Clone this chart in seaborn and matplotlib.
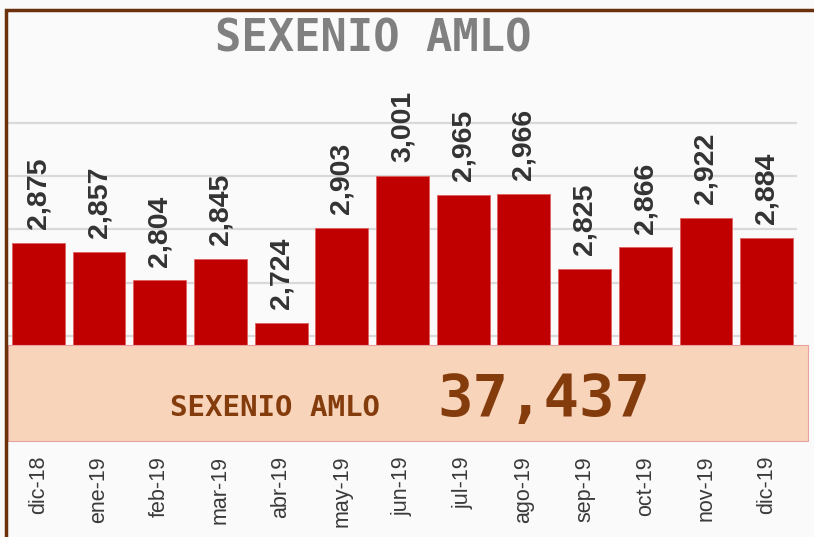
import matplotlib
matplotlib.use("Agg")
import matplotlib.pyplot as plt
import matplotlib.patches as mpatches
import seaborn as sns
import pandas as pd

months = ["dic-18", "ene-19", "feb-19", "mar-19", "abr-19", "may-19", "jun-19",
          "jul-19", "ago-19", "sep-19", "oct-19", "nov-19", "dic-19"]
values = [2875, 2857, 2804, 2845, 2724, 2903, 3001, 2965, 2966, 2825, 2866, 2922, 2884]
title_text = "SEXENIO AMLO"
box_label = "SEXENIO AMLO"
box_total = "37,437"

sns.set_theme(style="white")
plt.rcParams['font.family'] = ['Liberation Sans', 'DejaVu Sans']

df = pd.DataFrame({"mes": months, "valor": values})

fig = plt.figure(figsize=(8.14, 5.37), dpi=100)
fig.patch.set_facecolor("#fafafa")
W, H = 814, 537
ax = fig.add_axes([8 / W, 1 - 442 / H, (797 - 8) / W, (442 - 70) / H])
ax.set_facecolor("#fafafa")

sns.barplot(data=df, x="mes", y="valor", color="#c00000", saturation=1,
            width=0.87, ax=ax, zorder=3, edgecolor="#e06060", linewidth=0.6)
ax.set_ylim(2500, 3200)
ax.set_yticks([2500, 2600, 2700, 2800, 2900, 3000, 3100])
ax.yaxis.grid(True, color="#d9d9d9", linewidth=1.6, zorder=0)
ax.set_axisbelow(True)
ax.set_yticklabels([])
ax.tick_params(axis="y", length=0)
ax.tick_params(axis="x", length=0, pad=10)
ax.set_xlabel("")
ax.set_ylabel("")
for s in ax.spines.values():
    s.set_visible(False)
ax.set_xlim(-0.5, len(months) - 0.5)

for lab in ax.get_xticklabels():
    lab.set_rotation(90)
    lab.set_fontsize(15.5)
    lab.set_color("#3a3a3a")

ax.bar_label(ax.containers[0], labels=[f"{v:,}" for v in values], rotation=90,
             padding=10, fontsize=20.5, fontweight="bold", color="#333333")

# Title
fig.text(373 / W, 1 - 39 / H, title_text, ha="center", va="center",
         fontsize=31.5, fontweight="bold", color="#808080",
         family="DejaVu Sans Mono")

# Overlay box
rect = mpatches.Rectangle((8 / W, 1 - 441 / H), (808 - 8) / W, (441 - 345) / H,
                          transform=fig.transFigure, facecolor="#f8d4bb",
                          edgecolor="#e8a0a0", linewidth=0.8, zorder=10)
fig.patches.append(rect)
fig.text(380 / W, 1 - 416 / H, box_label, ha="right", va="baseline",
         fontsize=21, fontweight="bold", color="#843c0c",
         family="DejaVu Sans Mono", zorder=11)
fig.text(437 / W, 1 - 416 / H, box_total, ha="left", va="baseline",
         fontsize=42.5, fontweight="bold", color="#843c0c",
         family="DejaVu Sans Mono", zorder=11)

# Brown frame (left and top edges visible)
frame = mpatches.Rectangle((5.5 / W, -0.05), 1.2, 1.05 - 9.5 / H,
                           transform=fig.transFigure, facecolor="none",
                           edgecolor="#6b300c", linewidth=2.5, zorder=12)
fig.patches.append(frame)

fig.savefig("out.png", dpi=100, facecolor=fig.get_facecolor())
